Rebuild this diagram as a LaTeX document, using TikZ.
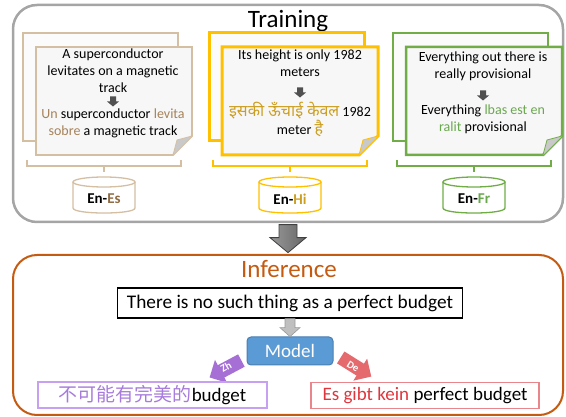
\documentclass[tikz,border=0pt]{standalone}
\usepackage{fontspec}
\setmainfont{Carlito}
\newfontfamily\hindifont[Script=Devanagari]{Noto Sans}
\newfontfamily\cjkfont{Noto Sans CJK SC}
\usetikzlibrary{calc}
\definecolor{trainc}{HTML}{A5A5A5}
\definecolor{infc}{HTML}{C55A11}
\definecolor{esc}{HTML}{D5BFA3}
\definecolor{estext}{HTML}{A6825A}
\definecolor{esdark}{HTML}{8F6C45}
\definecolor{hic}{HTML}{FFC000}
\definecolor{hitext}{HTML}{CC9F22}
\definecolor{frc}{HTML}{70AD47}
\definecolor{frtext}{HTML}{6AA84F}
\definecolor{sheetfront}{HTML}{F7F7F7}
\definecolor{sheetback}{HTML}{FBFBFB}
\definecolor{foldgray}{HTML}{C9C9C9}
\definecolor{darkarr}{HTML}{505050}
\definecolor{modelfill}{HTML}{5B9BD5}
\definecolor{modeldraw}{HTML}{4A7EB0}
\definecolor{zharr}{HTML}{A66FD6}
\definecolor{zhbox}{HTML}{C8A0F2}
\definecolor{zhtext}{HTML}{A77BDB}
\definecolor{dearr}{HTML}{E46A6E}
\definecolor{debox}{HTML}{E8868C}
\definecolor{detext}{HTML}{E0353D}
\tikzset{
  cardfont/.style={font=\fontsize{14}{17}\selectfont, align=center, inner sep=0pt},
  cyllabel/.style={font=\bfseries\fontsize{15}{15}\selectfont, inner sep=0pt},
  outbox/.style={line width=1.5, minimum height=26, inner sep=0pt,
    font=\fontsize{19}{19}\selectfont},
  arrlabel/.style={text=white, inner sep=0pt, font=\bfseries\fontsize{10.5}{10.5}\selectfont},
}
% block arrow: #1 centre, #2 angle, #3 length, #4 shaft width, #5 head width, #6 head length, #7 style
\newcommand\blockarr[7]{%
  \begin{scope}[shift={#1}, rotate=#2]
    \path[#7] ({-#3/2},{-#4/2}) -- ({#3/2-#6},{-#4/2}) -- ({#3/2-#6},{-#5/2}) -- ({#3/2},0)
      -- ({#3/2-#6},{#5/2}) -- ({#3/2-#6},{#4/2}) -- ({-#3/2},{#4/2}) -- cycle;
  \end{scope}}
\newcommand\mycard[3]{%
  \draw[#2, line width=#3, fill=sheetback] (#1,33) rectangle ({#1+155},141);
  \draw[#2, line width=#3, fill=sheetfront, line join=miter]
    ({#1+13},47) -- ({#1+169},47) -- ({#1+169},136) -- ({#1+150},155) -- ({#1+13},155) -- cycle;
  \fill[foldgray] ({#1+169},136) -- ({#1+150},155) -- ({#1+154},140) -- cycle;
  \draw[#2, line width=0.8] ({#1+169},136) -- ({#1+154},140) -- ({#1+150},155);
  \draw[#2, line width=1.2] ({#1+4},160) -- ({#1+4},166) -- ({#1+158},166) -- ({#1+158},160);
  \draw[#2, line width=1.2] ({#1+81},166) -- ({#1+81},172);
  \draw[#2, line width=1.3, fill=white]
    ({#1+50},182) -- ({#1+50},208) .. controls ({#1+50},214.7) and ({#1+112},214.7) .. ({#1+112},208) -- ({#1+112},182);
  \draw[#2, line width=1.3, fill=white] ({#1+81},182) ellipse [x radius=31, y radius=5];
}
\begin{document}
\begin{tikzpicture}[x=1pt,y=-1pt]
\useasboundingbox (0,0) rectangle (566,417);
% training frame
\node[draw=trainc, line width=2.5, rounded corners=24, minimum width=550, minimum height=217, inner sep=0pt] (train) at (288,113.5) {};
\node[anchor=base, font=\fontsize{25}{25}\selectfont, inner sep=0pt] (ttrain) at (288,28) {Training};
% cards
\mycard{23}{esc}{1.8}
\mycard{209}{hic}{3}
\mycard{393}{frc}{2.5}
% Es card
\node[cardfont] (esSrc) at (113,71) {A superconductor\\levitates on a magnetic\\track};
\blockarr{(113,101.5)}{-90}{10}{6}{12}{5}{fill=darkarr}
\node[cardfont] (esTgt) at (113,123) {\textcolor{estext}{Un} superconductor \textcolor{estext}{levita}\\\textcolor{estext}{sobre} a magnetic track};
\node[cyllabel] (esLab) at (104,199) {En-\textcolor{esdark}{Es}};
% Hi card
\node[cardfont] (hiSrc) at (300,63.5) {Its height is only 1982\\meters};
\blockarr{(300,92.5)}{-90}{10}{6}{12}{5}{fill=darkarr}
\node[cardfont, font=\fontsize{14}{18}\selectfont] (hiTgt) at (300,119) {{\hindifont\fontsize{16}{18}\selectfont\color{hitext}इसकी ऊँचाई केवल} 1982\\meter {\hindifont\fontsize{16}{18}\selectfont\color{hitext}है}};
\node[cyllabel] (hiLab) at (290,199) {En-\textcolor{hitext}{Hi}};
% Fr card
\node[cardfont] (frSrc) at (483,66) {Everything out there is\\really provisional};
\blockarr{(483,95.5)}{-90}{10}{6}{12}{5}{fill=darkarr}
\node[cardfont] (frTgt) at (483,119.5) {Everything \textcolor{frtext}{lbas est en}\\\textcolor{frtext}{ralit} provisional};
\node[cyllabel] (frLab) at (474,199) {En-\textcolor{frtext}{Fr}};
% inference frame
\node[draw=infc, line width=2, rounded corners=24, minimum width=550, minimum height=160, inner sep=0pt] (inf) at (288,335) {};
\node[anchor=base, font=\fontsize{25}{25}\selectfont, text=infc, inner sep=0pt] (tinf) at (289,278) {Inference};
% big arrow between the two frames
\coordinate (bigC) at ($(train.south)!0.5!(inf.north)$);
\blockarr{(bigC)}{-90}{28}{18}{36}{15}{draw=black!75, line width=0.8, left color=black!40, right color=black!60}
% input and model
\node[draw=black, line width=1.5, minimum width=345, minimum height=30, inner sep=0pt,
  font=\fontsize{19.3}{19.3}\selectfont] (in) at (290,303) {There is no such thing as a perfect budget};
\node[draw=modeldraw, fill=modelfill, line width=1, rounded corners=4, minimum width=86, minimum height=28,
  inner sep=0pt, text=white, font=\fontsize{19}{19}\selectfont] (model) at (290,351) {Model};
\coordinate (smallC) at ($(in.south)!0.5!(model.north)$);
\blockarr{(smallC)}{-90}{18}{10}{20}{9}{fill=black!25, draw=black!40, line width=0.6}
% language arrows
\blockarr{(225.5,369)}{208}{36}{14}{26}{13}{fill=zharr}
\node[arrlabel, rotate=30] (zhLab) at (226,367) {Zh};
\blockarr{(356,367)}{-32}{36}{14}{26}{13}{fill=dearr}
\node[arrlabel, rotate=-32] (deLab) at (353,366.5) {De};
% outputs
\node[outbox, draw=zhbox, minimum width=229] (zh) at (152.5,395) {{\cjkfont\color{zhtext}不可能有完美的}budget};
\node[outbox, draw=debox, minimum width=228] (de) at (425,395.5) {\textcolor{detext}{Es gibt kein} perfect budget};
\end{tikzpicture}
\end{document}
